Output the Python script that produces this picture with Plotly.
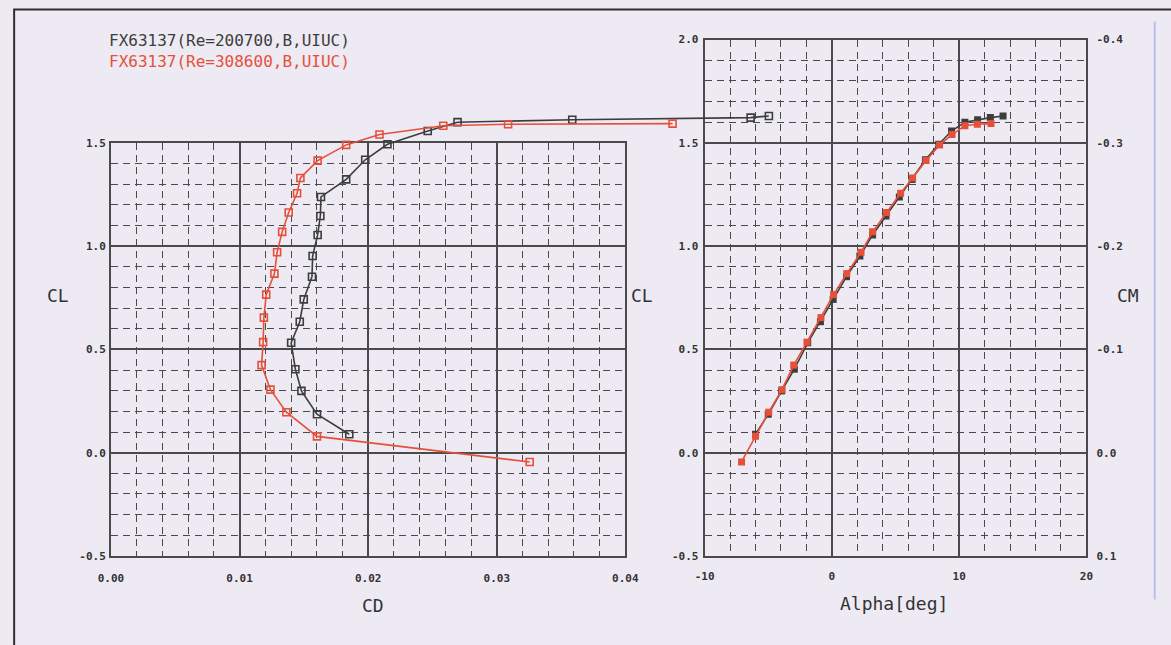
import plotly.graph_objects as go

W, H = 1171, 645

# ---------------- data ----------------
series_names = ["FX63137(Re=200700,B,UIUC)", "FX63137(Re=308600,B,UIUC)"]

cl_black = [0.089, 0.186, 0.299, 0.404, 0.532, 0.634, 0.742, 0.852, 0.952, 1.054,
            1.146, 1.238, 1.323, 1.418, 1.493, 1.557, 1.600, 1.612, 1.622, 1.630]
cd_black = [0.01853, 0.01602, 0.01481, 0.01434, 0.01401, 0.01468, 0.01499, 0.01563, 0.01568, 0.01607,
            0.01628, 0.01633, 0.01829, 0.01977, 0.02150, 0.02463, 0.02695, 0.03587, 0.04974, 0.05116]
alpha_black = [-6.0, -5.0, -3.95, -2.95, -1.9, -0.9, 0.1, 1.15, 2.2, 3.2,
               4.25, 5.3, 6.3, 7.35, 8.4, 9.4, 10.45, 11.45, 12.45, 13.45]

cl_red = [-0.045, 0.079, 0.196, 0.305, 0.424, 0.535, 0.654, 0.765, 0.867, 0.970,
          1.069, 1.163, 1.256, 1.330, 1.414, 1.490, 1.540, 1.583, 1.590, 1.593]
cd_red = [0.03256, 0.01602, 0.01364, 0.01240, 0.01171, 0.01183, 0.01189, 0.01207, 0.01271, 0.01292,
          0.01331, 0.01382, 0.01447, 0.01473, 0.01607, 0.01829, 0.02088, 0.02584, 0.03088, 0.04367]
alpha_red = [-7.1, -6.0, -4.96, -3.92, -3.0, -1.96, -0.86, 0.13, 1.17, 2.29,
             3.2, 4.3, 5.4, 6.34, 7.4, 8.46, 9.44, 10.45, 11.43, 12.5]

cd_ticks = [0.0, 0.01, 0.02, 0.03, 0.04]
cd_labels = ["0.00", "0.01", "0.02", "0.03", "0.04"]
cl_ticks_left = [-0.5, 0.0, 0.5, 1.0, 1.5]
cl_labels_left = ["-0.5", "0.0", "0.5", "1.0", "1.5"]
cl_ticks_right = [-0.5, 0.0, 0.5, 1.0, 1.5, 2.0]
cl_labels_right = ["-0.5", "0.0", "0.5", "1.0", "1.5", "2.0"]
alpha_ticks = [-10, 0, 10, 20]
alpha_labels = ["-10", "0", "10", "20"]
cm_ticks = [-0.4, -0.3, -0.2, -0.1, 0.0, 0.1]
cm_labels = ["-0.4", "-0.3", "-0.2", "-0.1", "0.0", "0.1"]

# ---------------- styling ----------------
BG = "#edeaf3"
DARK = "#3d3d3d"
RED = "#e6503a"
GRID = "#4a4a4a"
TICKFONT = dict(family="DejaVu Sans Mono", size=11, color="#333333", weight="bold")
TITLEFONT = dict(family="DejaVu Sans Mono", size=18, color="#333333")
DASH = "7px,5px"

# the photographed page appears slightly shrunk about its centre; lay out in
# target-picture pixels and expand about the centre to compensate
S = 0.98
CX, CY = W / 2, H / 2


def fx(px):
    return (CX + (px - CX) / S) / W


def fy(py):
    return 1 - (CY + (py - CY) / S) / H


# pixel geometry (target picture)
Y_BOTTOM = 556.5      # CL = -0.5
PX_PER_CL = 206.6
PX_PER_CD = 12900.0
LEFT_X0 = 110.0
Y_TOP_LEFT = Y_BOTTOM - 2.0 * PX_PER_CL   # CL = 1.5
Y_TOP_RIGHT = Y_BOTTOM - 2.5 * PX_PER_CL  # CL = 2.0
LEFT_X1 = LEFT_X0 + 0.04 * PX_PER_CD
OVER_X1 = 800.0
R_X0, R_X1 = 705.5, 1088.5

fig = go.Figure()

# empty trace so the visible left box (x/y) is drawn
fig.add_trace(go.Scatter(x=[], y=[], xaxis="x", yaxis="y", showlegend=False))

# left polar (drawn on overlay axes that share the scale of the visible box)
fig.add_trace(go.Scatter(x=cd_black, y=cl_black, xaxis="x3", yaxis="y3", mode="lines+markers",
                         line=dict(color=DARK, width=1.6),
                         marker=dict(symbol="square-open", size=7, color=DARK, line=dict(width=1.6)),
                         showlegend=False, cliponaxis=False))
fig.add_trace(go.Scatter(x=cd_red, y=cl_red, xaxis="x3", yaxis="y3", mode="lines+markers",
                         line=dict(color=RED, width=1.6),
                         marker=dict(symbol="square-open", size=7, color=RED, line=dict(width=1.6)),
                         showlegend=False, cliponaxis=False))

# right CL-alpha
fig.add_trace(go.Scatter(x=alpha_black, y=cl_black, xaxis="x2", yaxis="y2", mode="lines+markers",
                         line=dict(color=DARK, width=1.6),
                         marker=dict(symbol="square", size=7, color=DARK),
                         showlegend=False))
fig.add_trace(go.Scatter(x=alpha_red, y=cl_red, xaxis="x2", yaxis="y2", mode="lines+markers",
                         line=dict(color=RED, width=1.6),
                         marker=dict(symbol="square", size=7, color=RED),
                         showlegend=False))
# CM axis (no CM curve visible)
fig.add_trace(go.Scatter(x=[], y=[], xaxis="x2", yaxis="y4", showlegend=False))


def box_axis(**kw):
    d = dict(showline=True, mirror=True, linecolor=GRID, linewidth=2,
             showgrid=True, gridcolor=GRID, gridwidth=1.6, zeroline=False,
             ticks="", tickmode="array", tickfont=TICKFONT, fixedrange=True)
    d.update(kw)
    return d


layout = dict(
    width=W, height=H,
    margin=dict(l=0, r=0, t=0, b=0),
    paper_bgcolor=BG, plot_bgcolor="rgba(0,0,0,0)",
    showlegend=False,
    xaxis=box_axis(domain=[fx(LEFT_X0), fx(LEFT_X1)], range=[0, 0.04], anchor="y",
                   tickvals=cd_ticks, ticktext=cd_labels, ticklabelstandoff=11,
                   minor=dict(dtick=0.002, tick0=0, showgrid=True, gridcolor=GRID,
                              griddash=DASH, gridwidth=1)),
    yaxis=box_axis(domain=[fy(Y_BOTTOM), fy(Y_TOP_LEFT)], range=[-0.5, 1.5], anchor="x",
                   tickvals=cl_ticks_left, ticktext=cl_labels_left, ticklabelstandoff=1,
                   minor=dict(dtick=0.1, tick0=0, showgrid=True, gridcolor=GRID,
                              griddash=DASH, gridwidth=1)),
    xaxis2=box_axis(domain=[fx(R_X0), fx(R_X1)], range=[-10, 20], anchor="y2",
                    tickvals=alpha_ticks, ticktext=alpha_labels, ticklabelstandoff=9,
                    minor=dict(dtick=2, tick0=0, showgrid=True, gridcolor=GRID,
                               griddash=DASH, gridwidth=1)),
    yaxis2=box_axis(domain=[fy(Y_BOTTOM), fy(Y_TOP_RIGHT)], range=[-0.5, 2.0], anchor="x2",
                    tickvals=cl_ticks_right, ticktext=cl_labels_right, ticklabelstandoff=2,
                    minor=dict(dtick=0.1, tick0=0, showgrid=True, gridcolor=GRID,
                               griddash=DASH, gridwidth=1)),
    yaxis4=dict(overlaying="y2", side="right", anchor="x2", range=[0.1, -0.4],
                tickmode="array", tickvals=cm_ticks, ticktext=cm_labels, tickfont=TICKFONT,
                showgrid=False, zeroline=False, showline=False, ticks="",
                ticklabelstandoff=9, fixedrange=True),
    xaxis3=dict(domain=[fx(LEFT_X0), fx(OVER_X1)], range=[0, (OVER_X1 - LEFT_X0) / PX_PER_CD],
                anchor="y3", visible=False, fixedrange=True),
    yaxis3=dict(domain=[fy(Y_BOTTOM), fy(Y_TOP_RIGHT)], range=[-0.5, 2.0],
                anchor="x3", visible=False, fixedrange=True),
)
fig.update_layout(**layout)

# axis titles
titles = [("CL", 57, 296), ("CD", 373, 606), ("CL", 643, 296), ("Alpha[deg]", 895, 604), ("CM", 1130, 296)]
for txt, px, py in titles:
    fig.add_annotation(text=txt, x=fx(px), y=fy(py), xref="paper", yref="paper",
                       showarrow=False, font=TITLEFONT, xanchor="center", yanchor="middle")

# legend text (one two-line block)
legend_text = "<br>".join(
    f"<span style='color:{col}'>{name}</span>" for name, col in zip(series_names, [DARK, RED])
)
fig.add_annotation(text=legend_text, x=fx(106), y=fy(29), xref="paper", yref="paper",
                   showarrow=False, xanchor="left", yanchor="top", align="left",
                   font=dict(family="DejaVu Sans Mono", size=16, color=DARK))

# outer frame and scan edge line
fig.add_shape(type="rect", xref="paper", yref="paper", x0=max(fx(10), 0.001), y0=-0.05, x1=1.05,
              y1=min(fy(10), 0.998),
              line=dict(color="#2e2e2e", width=2), fillcolor="rgba(0,0,0,0)", layer="below")
fig.add_shape(type="line", xref="paper", yref="paper", x0=fx(1157), x1=fx(1157), y0=fy(600), y1=fy(22),
              line=dict(color="#b9bfe6", width=2), layer="below")

fig.write_html("out.html")
